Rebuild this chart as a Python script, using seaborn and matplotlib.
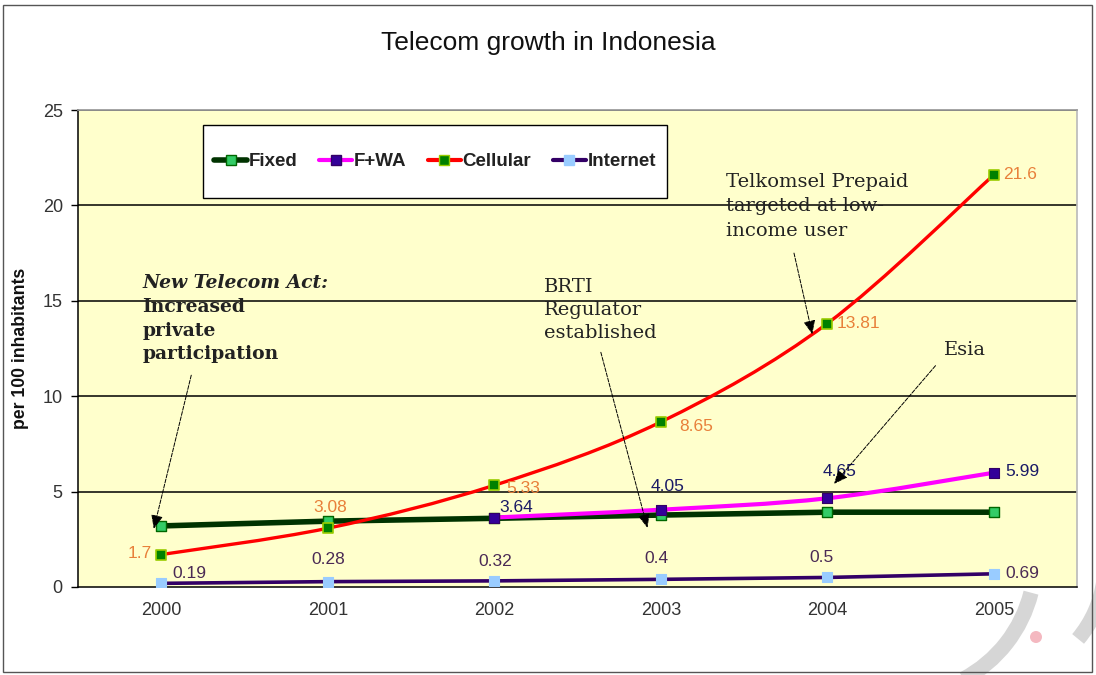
import matplotlib
matplotlib.use("Agg")
import matplotlib.pyplot as plt
from matplotlib.path import Path
from matplotlib.patches import PathPatch, Rectangle, Arc, Circle
from matplotlib.lines import Line2D
import numpy as np
import pandas as pd
import seaborn as sns

# ---- data -------------------------------------------------------------
years = ["2000", "2001", "2002", "2003", "2004", "2005"]
fixed = [3.2, 3.45, 3.6, 3.77, 3.92, 3.92]
fwa_years = ["2002", "2003", "2004", "2005"]
fwa = [3.64, 4.05, 4.65, 5.99]
cellular = [1.7, 3.08, 5.33, 8.65, 13.81, 21.6]
internet = [0.19, 0.28, 0.32, 0.4, 0.5, 0.69]
yticks = [0, 5, 10, 15, 20, 25]

sns.set_theme(style="white")
plt.rcParams["font.family"] = ["Liberation Sans", "DejaVu Sans"]

fig = plt.figure(figsize=(10.96, 6.75), dpi=100)
ax = fig.add_axes([0.0712, 0.1304, 0.9115, 0.7066])
ax.set_facecolor("#FFFFCC")

xi = {y: i for i, y in enumerate(years)}
df_fixed = pd.DataFrame({"x": [xi[y] for y in years], "v": fixed})
df_fwa = pd.DataFrame({"x": [xi[y] for y in fwa_years], "v": fwa})
df_cell = pd.DataFrame({"x": [xi[y] for y in years], "v": cellular})
df_net = pd.DataFrame({"x": [xi[y] for y in years], "v": internet})


def smooth_path(xs, ys):
    """Cubic Bezier path through points (Catmull-Rom style tangents)."""
    xs = np.asarray(xs, float)
    ys = np.asarray(ys, float)
    n = len(xs)
    verts = [(xs[0], ys[0])]
    codes = [Path.MOVETO]
    for i in range(n - 1):
        p0 = np.array([xs[max(i - 1, 0)], ys[max(i - 1, 0)]])
        p1 = np.array([xs[i], ys[i]])
        p2 = np.array([xs[i + 1], ys[i + 1]])
        p3 = np.array([xs[min(i + 2, n - 1)], ys[min(i + 2, n - 1)]])
        c1 = p1 + (p2 - p0) / 6.0
        c2 = p2 - (p3 - p1) / 6.0
        verts += [tuple(c1), tuple(c2), tuple(p2)]
        codes += [Path.CURVE4] * 3
    return Path(verts, codes)


# Fixed line
sns.lineplot(data=df_fixed, x="x", y="v", ax=ax, color="#003300", lw=4.0,
             zorder=3, legend=False)
# F+WA line (smoothed)
ax.add_patch(PathPatch(smooth_path(df_fwa["x"], df_fwa["v"]), fill=False,
                       edgecolor="#FF00FF", lw=3.0, zorder=4,
                       capstyle="round"))
# Cellular line (smoothed)
ax.add_patch(PathPatch(smooth_path(df_cell["x"], df_cell["v"]), fill=False,
                       edgecolor="#FF0000", lw=2.4, zorder=5,
                       capstyle="round"))
# Internet line
sns.lineplot(data=df_net, x="x", y="v", ax=ax, color="#330066", lw=2.6,
             zorder=3, legend=False)

# markers
sns.scatterplot(data=df_fixed, x="x", y="v", ax=ax, marker="s", s=55,
                color="#33CC66", edgecolor="#006600", linewidth=1.0, zorder=6)
sns.scatterplot(data=df_fwa, x="x", y="v", ax=ax, marker="s", s=55,
                color="#330099", edgecolor="#330066", linewidth=0.8, zorder=7)
sns.scatterplot(data=df_cell, x="x", y="v", ax=ax, marker="s", s=45,
                color="#008000", edgecolor="#99CC00", linewidth=1.2, zorder=8)
sns.scatterplot(data=df_net, x="x", y="v", ax=ax, marker="s", s=55,
                color="#99CCFF", edgecolor="#99CCFF", linewidth=0.8, zorder=7)

# axes styling
ax.set_xlim(-0.5, 5.5)
ax.set_ylim(0, 25)
ax.set_yticks(yticks)
ax.set_yticklabels([str(t) for t in yticks], fontsize=13, color="#333333")
ax.set_xticks(range(len(years)))
ax.set_xticklabels(years, fontsize=13, color="#333333")
ax.set_xticks([i + 0.5 for i in range(len(years) - 1)], minor=True)
ax.tick_params(axis="x", which="major", length=0, pad=11)
ax.tick_params(axis="x", which="minor", length=5, direction="out",
               color="black", width=1.0)
ax.tick_params(axis="y", length=5, direction="out", color="black",
               width=1.0, left=True, pad=6)
for t in yticks[1:]:
    ax.axhline(t, color="black", lw=1.1, zorder=1)
for side in ["left", "bottom"]:
    ax.spines[side].set_color("black")
    ax.spines[side].set_linewidth(1.1)
ax.spines["right"].set_color("#bbbbbb")
ax.spines["top"].set_color("#999999")
ax.set_xlabel("")
ax.set_ylabel("per 100 inhabitants", fontsize=12.7, fontweight="bold",
              labelpad=10, color="#111111")

fig.text(0.5, 0.936, "Telecom growth in Indonesia", ha="center",
         va="center", fontsize=19, color="#111111")

# data labels
def label(x, y, text, dx, dy, color, ha="center", va="center", **kw):
    ax.annotate(text, (x, y), xytext=(dx, dy), textcoords="offset points",
                ha=ha, va=va, color=color, fontsize=12.5, zorder=10, **kw)

cell_c = "#E8803A"
label(0, cellular[0], "1.7", -7, 1, cell_c, ha="right")
label(1, cellular[1], "3.08", 2, 15, cell_c)
label(2, cellular[2], "5.33", 9, -2, cell_c, ha="left")
label(3, cellular[3], "8.65", 13, -3, cell_c, ha="left")
label(4, cellular[4], "13.81", 7, 0, cell_c, ha="left")
label(5, cellular[5], "21.6", 7, 0, cell_c, ha="left")

fwa_c = "#1a1a66"
label(2, fwa[0], "3.64", 16, 7, fwa_c)
label(3, fwa[1], "4.05", 5, 17, fwa_c)
label(4, fwa[2], "4.65", 9, 19, fwa_c)
label(5, fwa[3], "5.99", 8, 1, fwa_c, ha="left")

net_c = "#4a2a55"
label(0, internet[0], "0.19", 8, 7, net_c, ha="left")
label(1, internet[1], "0.28", 0, 16, net_c)
label(2, internet[2], "0.32", 1, 14, net_c)
label(3, internet[3], "0.4", -3, 15, net_c)
label(4, internet[4], "0.5", -4, 14, net_c)
label(5, internet[5], "0.69", 8, 0, net_c, ha="left")

# event annotations
serif = ["DejaVu Serif"]
ann_c = "#222222"
ax.text(-0.114, 16.4, "New Telecom Act:", family=serif, style="italic",
        fontweight="bold", fontsize=13.5, va="top", ha="left", color=ann_c,
        zorder=10)
ax.text(-0.114, 15.15, "Increased\nprivate\nparticipation", family=serif,
        fontweight="bold", fontsize=13.5, va="top", ha="left", color=ann_c,
        linespacing=1.4, zorder=10)
ax.text(2.30, 16.2, "BRTI\nRegulator\nestablished", family=serif,
        fontsize=14, va="top", ha="left", color=ann_c, linespacing=1.35,
        zorder=10)
ax.text(3.39, 21.7, "Telkomsel Prepaid\ntargeted at low-\nincome user",
        family=serif, fontsize=14, va="top", ha="left", color=ann_c,
        linespacing=1.45, zorder=10)
ax.text(4.70, 12.9, "Esia", family=serif, fontsize=14, va="top",
        ha="left", color=ann_c, zorder=10)

arrow = dict(arrowstyle="-|>,head_length=0.7,head_width=0.3", color="black",
             lw=0.7, linestyle=(0, (4, 1.5)), shrinkA=0, shrinkB=0)
for start, end in [((0.18, 11.1), (-0.045, 3.05)),
                   ((2.64, 12.3), (2.92, 3.1)),
                   ((3.80, 17.5), (3.91, 13.25)),
                   ((4.65, 11.6), (4.04, 5.4))]:
    ax.annotate("", xy=end, xytext=start, arrowprops=arrow, zorder=11)

# legend box and entries
ax.add_patch(Rectangle((0.125, 0.8155), 0.465, 0.153, transform=ax.transAxes,
                       facecolor="white", edgecolor="black", lw=1.0,
                       zorder=12))
handles = [
    Line2D([], [], color="#003300", lw=4, marker="s", markersize=7,
           markerfacecolor="#33CC66", markeredgecolor="#006600"),
    Line2D([], [], color="#FF00FF", lw=3, marker="s", markersize=7,
           markerfacecolor="#330099", markeredgecolor="#330066"),
    Line2D([], [], color="#FF0000", lw=3, marker="s", markersize=7,
           markerfacecolor="#008000", markeredgecolor="#99CC00"),
    Line2D([], [], color="#330066", lw=3, marker="s", markersize=7,
           markerfacecolor="#99CCFF", markeredgecolor="#99CCFF"),
]
leg = ax.legend(handles, ["Fixed", "F+WA", "Cellular", "Internet"],
                loc="center", bbox_to_anchor=(0.3575, 0.892), ncol=4,
                frameon=False, handlelength=1.75, handletextpad=0.1,
                columnspacing=1.15, prop={"size": 13.5, "weight": "bold"})
leg.set_zorder(13)
for t in leg.get_texts():
    t.set_color("#222222")

# watermark swoosh in the lower right corner
fig.patches.append(Arc((900, 115), 270, 270, theta1=-62, theta2=-14,
                       transform=None, color="#d6d6d6", lw=11, zorder=0))
fig.patches.append(Arc((990, 110), 230, 230, theta1=-40, theta2=-8,
                       transform=None, color="#d6d6d6", lw=11, zorder=0))
fig.patches.append(Circle((1036, 38), 6, transform=None,
                          facecolor="#f4b8c0", edgecolor="none", zorder=0))

# outer frame
fig.patches.append(Rectangle((0.003, 0.004), 0.993, 0.988,
                             transform=fig.transFigure, fill=False,
                             edgecolor="#555555", lw=1.0))

fig.savefig("out.png", dpi=100)
